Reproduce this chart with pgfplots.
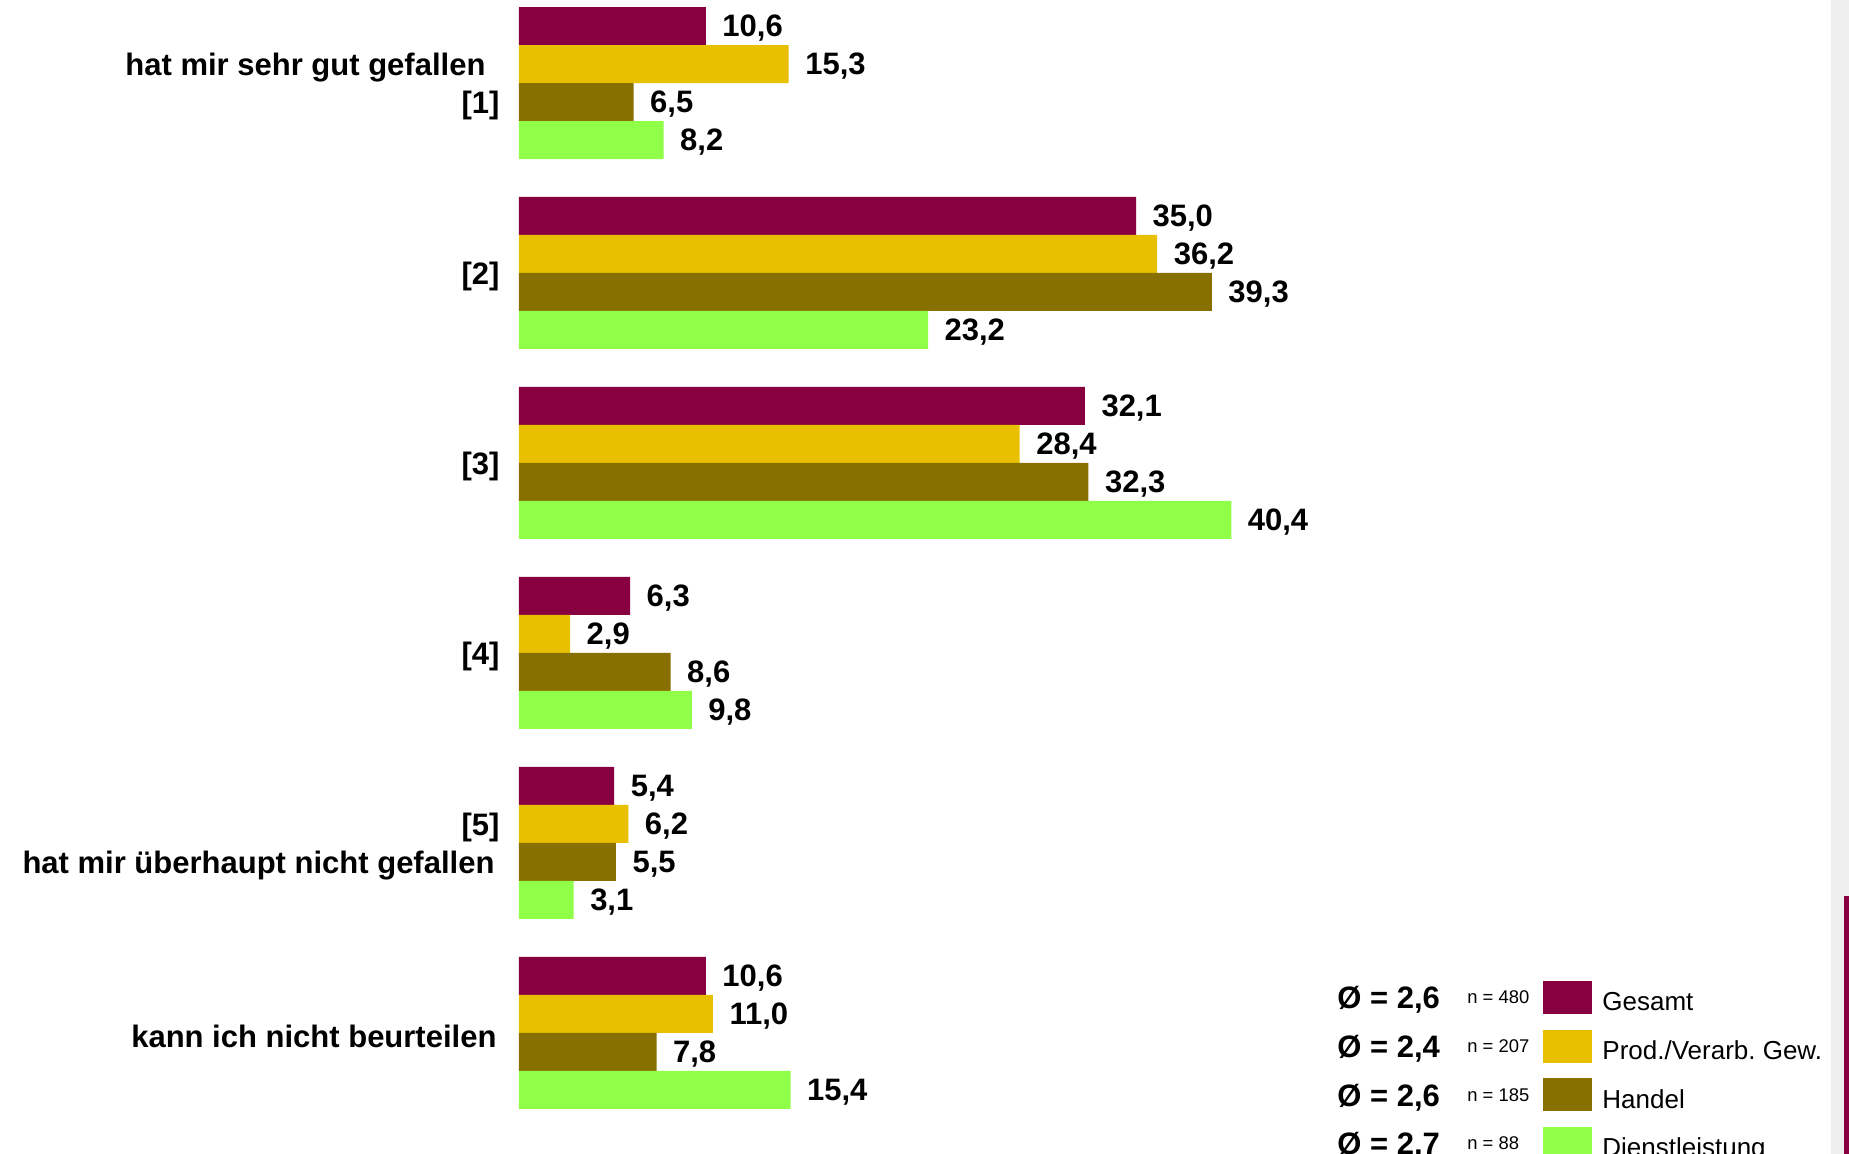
\documentclass[border=0pt]{standalone}
\usepackage{fontspec}
\setmainfont{Liberation Sans}
\usepackage{pgfplots}
\pgfplotsset{compat=1.18}
\frenchspacing

\definecolor{gesamt}{RGB}{136,0,64}
\definecolor{prod}{RGB}{232,192,0}
\definecolor{handel}{RGB}{136,112,0}
\definecolor{dienst}{RGB}{144,255,72}
\definecolor{strip}{RGB}{239,239,239}

\begin{document}
\begin{tikzpicture}
\begin{axis}[
  at={(259.5pt,0pt)}, anchor=south west,
  scale only axis, width=665pt, height=577pt,
  xmin=0, xmax=75.44, ymin=-0.637, ymax=5.437,
  xbar, bar width=19pt,
  axis line style={draw=none},
  xtick=\empty,
  ytick={0,1,2,3,4,5},
  yticklabels={
    {kann ich nicht beurteilen\hspace*{1.5pt}},
    {[5]\\hat mir überhaupt nicht gefallen\hspace*{2.5pt}},
    {[4]}, {[3]}, {[2]},
    {hat mir sehr gut gefallen\hspace*{7pt}\\{}[1]}},
  ytick style={draw=none},
  yticklabel style={align=right, inner sep=0pt, xshift=-5.3pt, yshift=-1.7pt,
    font=\bfseries\fontsize{15.5}{19}\selectfont},
  nodes near coords,
  point meta=x,
  every node near coord/.append style={anchor=west, inner sep=0pt, xshift=8.1pt,
    yshift=-1.2pt, font=\bfseries\fontsize{15.5}{18}\selectfont, text=black},
  /pgf/number format/fixed,
  /pgf/number format/fixed zerofill,
  /pgf/number format/precision=1,
  /pgf/number format/use comma,
  /pgf/number format/assume math mode=true,
  clip=false,
]
% Gesamt
\addplot[fill=gesamt, draw=none, bar shift=28.5pt]
  coordinates {(10.6,5) (35.0,4) (32.1,3) (6.3,2) (5.4,1) (10.6,0)};
% Prod./Verarb. Gew.
\addplot[fill=prod, draw=none, bar shift=9.5pt]
  coordinates {(15.3,5) (36.2,4) (28.4,3) (2.9,2) (6.2,1) (11.0,0)};
% Handel
\addplot[fill=handel, draw=none, bar shift=-9.5pt]
  coordinates {(6.5,5) (39.3,4) (32.3,3) (8.6,2) (5.5,1) (7.8,0)};
% Dienstleistung
\addplot[fill=dienst, draw=none, bar shift=-28.5pt]
  coordinates {(8.2,5) (23.2,4) (40.4,3) (9.8,2) (3.1,1) (15.4,0)};
\end{axis}

% legend block and side strip, in pixel-like units from the top left
\begin{scope}[yshift=577pt, x=0.5pt, y=-0.5pt]
  \fill[strip] (1831,0) rectangle (1849,1154);
  \fill[gesamt] (1844,896) rectangle (1849,1154);
  \foreach \i/\col/\avg/\n/\name in {
      0/gesamt/{2,6}/480/{Gesamt},
      1/prod/{2,4}/207/{Prod./Verarb. Gew.},
      2/handel/{2,6}/185/{Handel},
      3/dienst/{2,7}/88/{Dienstleistung}} {
    \pgfmathsetmacro{\yy}{981+48.6*\i}
    \fill[\col] (1543,\yy) rectangle (1592,\yy+33);
    \node[anchor=base west, inner sep=0pt, font=\bfseries\fontsize{15.5}{18}\selectfont]
      at (1337,\yy+28) {Ø = \avg};
    \node[anchor=base west, inner sep=0pt, font=\fontsize{9.2}{11}\selectfont]
      at (1467,\yy+23) {n = \n};
    \node[anchor=base west, inner sep=0pt, font=\fontsize{13}{15}\selectfont]
      at (1602,\yy+30) {\name};
  }
\end{scope}

\pgfresetboundingbox
\path[use as bounding box] (0,0) rectangle (924.5pt,577pt);
\end{tikzpicture}
\end{document}
